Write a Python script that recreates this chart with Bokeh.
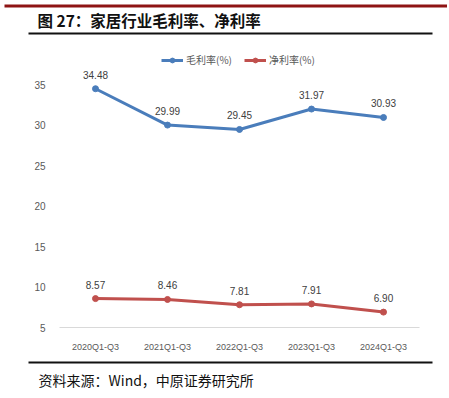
from bokeh.plotting import figure
from bokeh.layouts import column
from bokeh.models import (ColumnDataSource, Range1d, FactorRange, LabelSet, Legend,
                          LegendItem, FixedTicker)
from bokeh.core.properties import value
from bokeh.embed import file_html
from bokeh.resources import INLINE

# ---- data ----
categories = ["2020Q1-Q3", "2021Q1-Q3", "2022Q1-Q3", "2023Q1-Q3", "2024Q1-Q3"]
gross_margin = [34.48, 29.99, 29.45, 31.97, 30.93]
net_margin = [8.57, 8.46, 7.81, 7.91, 6.90]
y_ticks = [5, 10, 15, 20, 25, 30, 35]
title_text = "图 27：家居行业毛利率、净利率"
source_text = "资料来源：Wind，中原证券研究所"
series_names = ["毛利率(%)", "净利率(%)"]

CJK = "Noto Sans CJK SC"
BLUE = "#4A7DBB"
RED = "#C0504D"
GREY = "#595959"
W = 447


def deco_figure(h):
    f = figure(width=W, height=h, x_range=Range1d(0, W), y_range=Range1d(h, 0),
               output_backend="svg", toolbar_location=None, min_border=0,
               x_axis_location=None, y_axis_location=None, outline_line_color=None)
    f.grid.visible = False
    return f


# ---- header (page y 0..44) ----
hdr = deco_figure(44)
hdr.segment(x0=[4], y0=[5.5], x1=[449], y1=[5.5], line_color="#8E1414", line_width=3)
hdr.segment(x0=[28], y0=[33], x1=[432], y1=[33], line_color="#111111", line_width=2)
hdr.text(x=[37], y=[19], text=[title_text], text_font=value(CJK), text_font_size="15.5px",
         text_font_style="bold", text_align="left", text_baseline="middle",
         text_color="#111111")

# ---- main chart (page y 44..354) ----
main_h = 310
p = figure(width=W, height=main_h, x_range=FactorRange(*categories, range_padding=0),
           y_range=Range1d(5, 39.94), output_backend="svg", toolbar_location=None,
           min_border_left=59, min_border_right=W - 419, min_border_top=0,
           min_border_bottom=main_h - 283, outline_line_color=None)
p.grid.visible = False

src = ColumnDataSource(dict(
    x=categories, g=gross_margin, n=net_margin,
    gl=[f"{v:.2f}" for v in gross_margin], nl=[f"{v:.2f}" for v in net_margin]))

gl = p.line("x", "g", source=src, line_color=BLUE, line_width=3)
gs = p.scatter("x", "g", source=src, size=6, fill_color=BLUE, line_color=BLUE)
nl = p.line("x", "n", source=src, line_color=RED, line_width=3)
ns = p.scatter("x", "n", source=src, size=6, fill_color=RED, line_color=RED)

for ycol, tcol in (("g", "gl"), ("n", "nl")):
    p.add_layout(LabelSet(x="x", y=ycol, text=tcol, source=src, y_offset=14,
                          text_align="center", text_baseline="middle",
                          text_font=value("Liberation Sans"), text_font_size="10px",
                          text_color="#404040"))

p.yaxis.ticker = FixedTicker(ticks=y_ticks)
p.yaxis.axis_line_color = None
p.yaxis.major_tick_line_color = None
p.yaxis.minor_tick_line_color = None
p.yaxis.major_label_standoff = 8
p.yaxis.major_label_text_font = "Liberation Sans"
p.yaxis.major_label_text_font_size = "10px"
p.yaxis.major_label_text_color = GREY

p.xaxis.axis_line_color = "#D9D9D9"
p.xaxis.axis_line_width = 1
p.xaxis.major_tick_line_color = None
p.xaxis.minor_tick_line_color = None
p.xaxis.major_label_standoff = 8
p.xaxis.major_label_text_font = "Liberation Sans"
p.xaxis.major_label_text_font_size = "9px"
p.xaxis.major_label_text_color = GREY

legend = Legend(items=[LegendItem(label=series_names[0], renderers=[gl, gs]),
                       LegendItem(label=series_names[1], renderers=[nl, ns])],
                location=(102, 260), orientation="horizontal", padding=0, margin=0,
                spacing=12, glyph_width=22, glyph_height=12, label_standoff=3,
                label_text_font=CJK, label_text_font_size="10px", label_text_color=GREY,
                border_line_color=None, background_fill_alpha=0)
p.add_layout(legend)

# ---- footer (page y 354..396) ----
ftr = deco_figure(42)
ftr.segment(x0=[28], y0=[8], x1=[432], y1=[8], line_color="#111111", line_width=2)
ftr.text(x=[38], y=[25], text=[source_text], text_font=value(CJK), text_font_size="14px",
         text_align="left", text_baseline="middle", text_color="#111111")

layout = column(column(hdr), p, column(ftr), spacing=0)
open("out.html", "w").write(file_html(layout, INLINE))
